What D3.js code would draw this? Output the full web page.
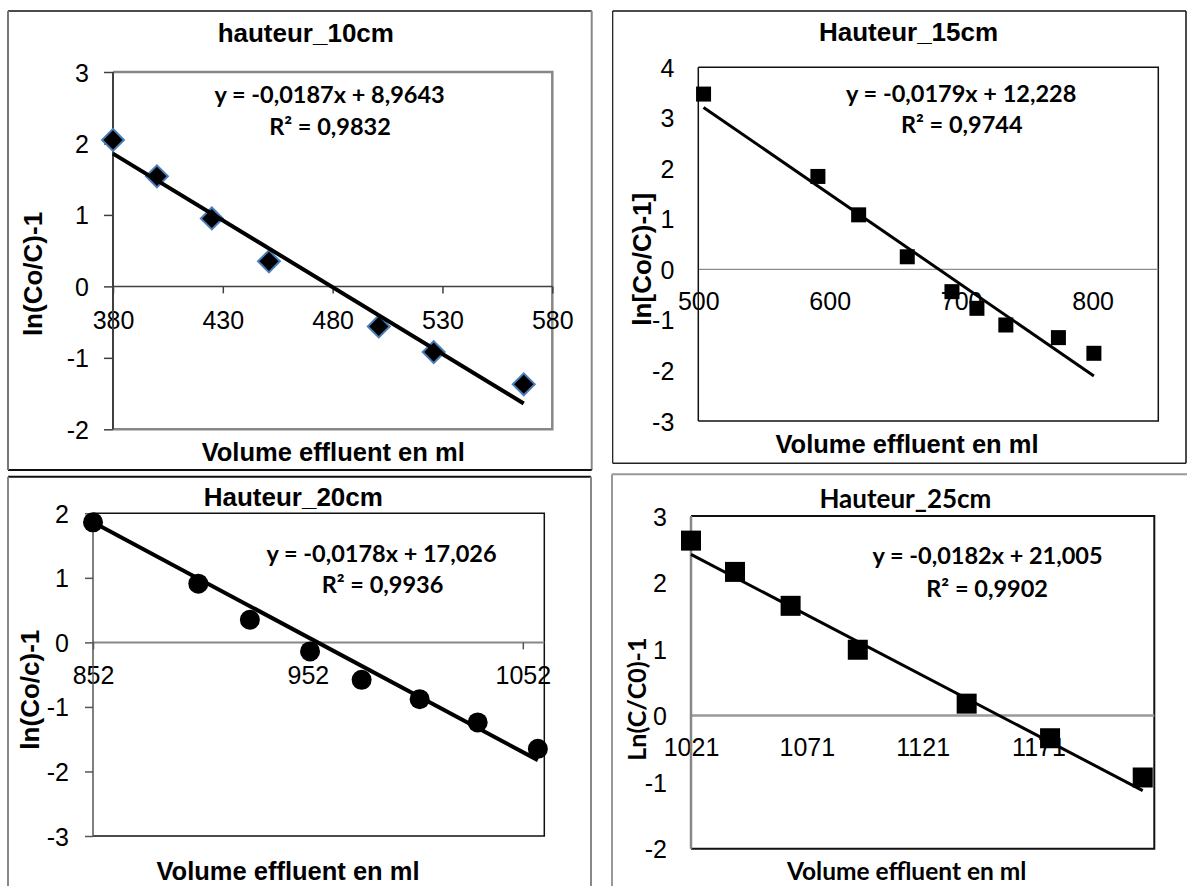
<!DOCTYPE html>
<html>
<head>
<meta charset="utf-8">
<script src="https://cdn.jsdelivr.net/npm/d3@7"></script>
<style>
  body { margin: 0; background: #fff; }
  svg { display: block; }
</style>
</head>
<body>
<svg id="chart" width="1187" height="886"></svg>
<script>
// ---------- data ----------
const titles  = ["hauteur_10cm", "Hauteur_15cm", "Hauteur_20cm", "Hauteur_25cm"];
const yTitles = ["ln(Co/C)-1", "ln[Co/C)-1]", "ln(Co/c)-1", "Ln(C/C0)-1"];
const xTitle  = "Volume effluent en ml";

// effluent volume (ml) and linearised concentration for each bed height
const vol10 = [380, 400, 425, 451, 501, 526, 567];
const ln10  = [2.05, 1.54, 0.95, 0.35, -0.56, -0.92, -1.37];
const vol15 = [504, 591, 622, 659, 693, 712, 734, 774, 801];
const ln15  = [3.47, 1.84, 1.08, 0.25, -0.44, -0.77, -1.10, -1.35, -1.66];
const vol20 = [852, 901, 925, 953, 977, 1004, 1031, 1059];
const ln20  = [1.86, 0.91, 0.35, -0.14, -0.58, -0.88, -1.24, -1.65];
const vol25 = [1021, 1040, 1064, 1093, 1140, 1176, 1216];
const ln25  = [2.63, 2.16, 1.65, 0.99, 0.18, -0.34, -0.93];

// linear trendlines
const slopes     = [-0.0187, -0.0179, -0.0178, -0.0182];
const intercepts = [8.9643, 12.228, 17.026, 21.005];
const r2         = [0.9832, 0.9744, 0.9936, 0.9902];

// axes
const xDomains = [[380, 580], [500, 850], [852, 1062], [1021, 1221]];
const yDomains = [[-2, 3], [-3, 4], [-3, 2], [-2, 3]];
const xTicks = [[380, 430, 480, 530, 580], [500, 600, 700, 800], [852, 952, 1052], [1021, 1071, 1121, 1171]];
const yTicks = [[-2, -1, 0, 1, 2, 3], [-3, -2, -1, 0, 1, 2, 3, 4], [-3, -2, -1, 0, 1, 2], [-2, -1, 0, 1, 2, 3]];

const volumes = [vol10, vol15, vol20, vol25];
const values  = [ln10, ln15, ln20, ln25];

// ---------- layout & style ----------
const ARIAL = "'Liberation Sans', Arial, sans-serif";
const CAL   = "Lato, 'Open Sans', sans-serif";

const layout = [
  { // hauteur 10 cm
    box: [8, 11, 591.7, 470],
    boxSides: { top: ["#111", 1.5], right: ["#888", 2], bottom: ["#111", 2], left: ["#777", 2] },
    plot: [113, 72, 552.3, 429.3],
    frame: ["#878787", 2.5], yAxis: ["#404040", 2], zero: ["#404040", 1.5],
    yTick: 9, xTick: 7, tickColor: "#404040", xLabelDy: 34,
    title: [305.8, 33.3], eq: [329.6, 95], r2: [330, 126.7], xT: [333.2, 451.7], yT: [32.6, 274],
    titleFont: ARIAL, axisFont: ARIAL,
    marker: "diamond", msize: 15.5, mstroke: ["#4a7ebb", 2], lineW: 4
  },
  { // hauteur 15 cm
    box: [612.7, 11, 1186, 463.3],
    boxSides: { top: ["#111", 1.5], right: ["#111", 1.5], bottom: ["#222", 1.5], left: ["#111", 1.2] },
    plot: [698.3, 67.3, 1158.3, 421],
    frame: ["#111", 1.5], yAxis: ["#111", 1.5], zero: ["#8c8c8c", 1.2],
    yTick: 0, xTick: 0, tickColor: "#111", xLabelDy: 31.5,
    title: [908.5, 32.3], eq: [961.2, 93.3], r2: [961.8, 125], xT: [907, 444.4], yT: [641.5, 259.2],
    titleFont: ARIAL, axisFont: ARIAL,
    marker: "square", msize: 15, mstroke: null, lineW: 3
  },
  { // hauteur 20 cm
    box: [8, 476.7, 591, 890],
    boxSides: { top: ["#111", 2], right: ["#888", 2], bottom: ["#888", 2], left: ["#888", 2] },
    plot: [93, 513.3, 544.3, 836],
    frame: ["#111", 1.5], yAxis: ["#555", 1.5], zero: ["#888", 2],
    yTick: 8, xTick: 7, tickColor: "#555", xLabelDy: 32.4,
    title: [293.3, 497.2], eq: [381.5, 553.5], r2: [382.5, 584.3], xT: [288, 871.5], yT: [29.7, 689.7],
    titleFont: ARIAL, axisFont: ARIAL,
    marker: "circle", msize: 20, mstroke: null, lineW: 4
  },
  { // hauteur 25 cm
    box: [612, 474.3, 1190, 890],
    boxSides: { top: ["#999", 2], right: ["#999", 2], bottom: ["#999", 2], left: ["#999", 2] },
    plot: [691, 516, 1154.3, 848.7],
    frame: ["#111", 2], yAxis: ["#888", 2.5], zero: ["#999", 2.5],
    yTick: 0, xTick: 0, tickColor: "#888", xLabelDy: 31.1,
    title: [905.4, 499.3], eq: [987.5, 556.1], r2: [987.1, 588.6], xT: [906.7, 871.5], yT: [637.5, 699.1],
    titleFont: CAL, axisFont: CAL,
    marker: "square", msize: 20, mstroke: null, lineW: 3
  }
];

const svg = d3.select("#chart");
svg.append("rect").attr("width", 1187).attr("height", 886).attr("fill", "#fff");

const fmt = v => String(v).replace(".", ",");

layout.forEach((L, i) => {
  const g = svg.append("g");
  const [bx0, by0, bx1, by1] = L.box;
  const [px0, py0, px1, py1] = L.plot;

  // chart border
  const sides = {
    top: [bx0, by0, bx1, by0], right: [bx1, by0, bx1, by1],
    bottom: [bx0, by1, bx1, by1], left: [bx0, by0, bx0, by1]
  };
  Object.entries(sides).forEach(([k, s]) => {
    g.append("line").attr("x1", s[0]).attr("y1", s[1]).attr("x2", s[2]).attr("y2", s[3])
      .attr("stroke", L.boxSides[k][0]).attr("stroke-width", L.boxSides[k][1]);
  });

  const x = d3.scaleLinear().domain(xDomains[i]).range([px0, px1]);
  const y = d3.scaleLinear().domain(yDomains[i]).range([py1, py0]);

  // plot area frame
  g.append("path")
    .attr("d", `M${px0},${py0}H${px1}V${py1}H${px0}`)
    .attr("fill", "none").attr("stroke", L.frame[0]).attr("stroke-width", L.frame[1]);

  // zero line with x tick marks and labels
  const y0 = y(0);
  g.append("line").attr("x1", px0).attr("x2", px1).attr("y1", y0).attr("y2", y0)
    .attr("stroke", L.zero[0]).attr("stroke-width", L.zero[1]);

  const xAxis = d3.axisBottom(x).tickValues(xTicks[i]).tickSize(L.xTick).tickPadding(0).tickFormat(d3.format("d"));
  const xa = g.append("g").attr("transform", `translate(0,${y0})`).call(xAxis);
  xa.select(".domain").remove();
  xa.selectAll(".tick line").attr("stroke", L.tickColor).attr("stroke-width", 1.5)
    .style("display", L.xTick ? null : "none");
  xa.selectAll(".tick text")
    .attr("y", L.xLabelDy).attr("dy", "0.36em")
    .attr("fill", "#000").style("font-family", ARIAL).style("font-size", "25px");

  // y axis
  const yAxis = d3.axisLeft(y).tickValues(yTicks[i]).tickSize(L.yTick).tickPadding(0).tickFormat(d3.format("d"));
  const ya = g.append("g").attr("transform", `translate(${px0},0)`).call(yAxis);
  ya.select(".domain").remove();
  ya.selectAll(".tick line").attr("stroke", L.tickColor).attr("stroke-width", 1.5)
    .style("display", L.yTick ? null : "none");
  ya.selectAll(".tick text")
    .attr("x", -24).attr("dy", "0.36em")
    .attr("fill", "#000").style("font-family", ARIAL).style("font-size", "25px")
    .text(d => d < 0 ? "-" + Math.abs(d) : d);
  g.append("line").attr("x1", px0).attr("x2", px0).attr("y1", py0).attr("y2", py1)
    .attr("stroke", L.yAxis[0]).attr("stroke-width", L.yAxis[1]);

  // data markers
  const pts = volumes[i].map((v, k) => [v, values[i][k]]);
  const mg = g.append("g");
  if (L.marker === "circle") {
    mg.selectAll("circle").data(pts).join("circle")
      .attr("cx", d => x(d[0])).attr("cy", d => y(d[1])).attr("r", L.msize / 2).attr("fill", "#000");
  } else if (L.marker === "square") {
    mg.selectAll("rect").data(pts).join("rect")
      .attr("x", d => x(d[0]) - L.msize / 2).attr("y", d => y(d[1]) - L.msize / 2)
      .attr("width", L.msize).attr("height", L.msize).attr("fill", "#000");
  } else {
    mg.selectAll("rect").data(pts).join("rect")
      .attr("x", -L.msize / 2).attr("y", -L.msize / 2)
      .attr("width", L.msize).attr("height", L.msize)
      .attr("transform", d => `translate(${x(d[0])},${y(d[1])}) rotate(45)`)
      .attr("fill", "#000")
      .attr("stroke", L.mstroke[0]).attr("stroke-width", L.mstroke[1]);
  }

  // trendline y = a·x + b over the data range
  const [xmin, xmax] = d3.extent(volumes[i]);
  const fit = v => slopes[i] * v + intercepts[i];
  g.append("line")
    .attr("x1", x(xmin)).attr("y1", y(fit(xmin)))
    .attr("x2", x(xmax)).attr("y2", y(fit(xmax)))
    .attr("stroke", "#000").attr("stroke-width", L.lineW);

  // texts
  const txt = (pos, str, font, size, weight) =>
    g.append("text").attr("x", pos[0]).attr("y", pos[1]).attr("dy", "0.35em")
      .attr("text-anchor", "middle").style("font-family", font)
      .style("font-size", size + "px").style("font-weight", weight).attr("fill", "#000").text(str);

  txt(L.title, titles[i], L.titleFont, 26, "bold");
  txt(L.eq, `y = ${fmt(slopes[i])}x + ${fmt(intercepts[i])}`, CAL, 23.5, "bold");
  txt(L.r2, `R² = ${fmt(r2[i])}`, CAL, 23.5, "bold");
  txt(L.xT, xTitle, L.axisFont, L.axisFont === CAL ? 24.5 : 25.5, "bold");
  txt(L.yT, yTitles[i], L.axisFont, L.axisFont === CAL ? 25 : 26, "bold")
    .attr("transform", `rotate(-90,${L.yT[0]},${L.yT[1]})`);
});
</script>
</body>
</html>
